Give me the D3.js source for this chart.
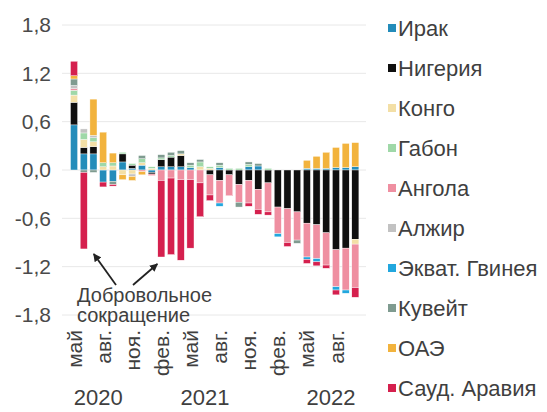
<!DOCTYPE html>
<html>
<head>
<meta charset="utf-8">
<script src="https://cdn.jsdelivr.net/npm/d3@7"></script>
<style>
  html, body { margin: 0; padding: 0; background: #fff; }
  svg { display: block; font-family: "Liberation Sans", Arial, sans-serif; }
</style>
</head>
<body>
<svg id="chart" width="547" height="412"></svg>
<script>
// ---------- DATA ----------
const months = ["2020-05","2020-06","2020-07","2020-08","2020-09","2020-10","2020-11","2020-12",
  "2021-01","2021-02","2021-03","2021-04","2021-05","2021-06","2021-07","2021-08","2021-09","2021-10","2021-11","2021-12",
  "2022-01","2022-02","2022-03","2022-04","2022-05","2022-06","2022-07","2022-08","2022-09","2022-10"];

const monthTickLabels = {"2020-05":"май","2020-08":"авг.","2020-11":"ноя.","2021-02":"фев.","2021-05":"май",
  "2021-08":"авг.","2021-11":"ноя.","2022-02":"фев.","2022-05":"май","2022-08":"авг."};

const yearLabels = ["2020","2021","2022"];
const yearAnchorMonths = ["2020-07","2021-06","2022-07"];

const yTicks = [1.8, 1.2, 0.6, 0.0, -0.6, -1.2, -1.8];

const seriesNames = ["Ирак","Нигерия","Конго","Габон","Ангола","Алжир","Экват. Гвинея","Кувейт","ОАЭ","Сауд. Аравия"];
const seriesColors = ["#238cba","#0f0f0f","#f3dfa6","#9fd8a8","#ef8fa1","#c2c2c2","#22a7de","#7f9b90","#f2b33d","#d5204e"];

const iraq    = [0.56,0.20,0.20,-0.15,-0.14,0.10,0.02,0.06,-0.03,0.04,0.04,0.04,0.03,0,0,0.03,0,0,0.04,0.05,0,0,0,0,0.02,0.02,0.02,0.03,0.03,0.04];
const nigeria = [0.28,0.08,0.09,0,0,0.10,0.04,0,-0.02,0.09,0.12,0.14,0,0,-0.06,-0.13,-0.06,-0.18,-0.13,-0.24,-0.16,-0.46,-0.48,-0.52,-0.66,-0.68,-0.78,-0.99,-0.97,-0.86];
const congo   = [0.09,0.10,0.06,0.04,0.05,-0.06,-0.05,0.03,0.02,0,0,0.02,0,0.04,0.02,0,0,0,0,0,0,0,0,0,0,0,0,0,0,-0.06];
const gabon   = [0.06,0.08,0.05,0.05,0.04,0.02,0.02,0.05,0.02,0.02,0.02,0,0.03,0.06,0.02,0.03,0.02,0.02,0.03,0,0.02,0,0,0,0,0,0,0,0,0];
const angola  = [0.02,0,0,0,0,0,0,-0.02,-0.02,-0.13,-0.10,-0.12,-0.12,-0.16,-0.25,-0.28,-0.26,-0.22,-0.28,-0.25,-0.36,-0.33,-0.42,-0.35,-0.42,-0.42,-0.40,-0.46,-0.52,-0.54];
const algeria = [0.04,0.05,0.03,0,0,0,-0.03,0,0,0,0,0,0,0,0,0,0,0,0,0,0,0,0,0,0,0,0,0,0,0];
const eqGuinea= [0,0,0,0,0,0,0,0,0,0,0,0,0,0,0,-0.04,0,0,0,0,0,-0.04,0,0,-0.03,-0.04,0,-0.04,-0.04,0];
const kuwait  = [0.08,-0.03,-0.03,0,-0.04,0,0,0.04,0,0.04,0.04,0.04,0.03,0.03,0,0.03,0,-0.06,0.03,0.03,0,0,0,-0.04,0,0,0,0,0,0];
const uae     = [0.04,0,0.45,0.38,0.12,-0.06,-0.05,-0.04,0,0,0,0,0,0,0,0,0,0,0,0,0,0,0,0,0.10,0.15,0.20,0.25,0.30,0.30];
const saudi   = [0.18,-0.95,0,-0.06,-0.02,0,0,0,0,-0.95,-0.95,-1.00,-0.85,-0.42,-0.07,0,0,0,-0.04,-0.06,-0.04,0,-0.05,0,-0.05,-0.05,-0.04,-0.06,0,-0.12];

const seriesValues = [iraq, nigeria, congo, gabon, angola, algeria, eqGuinea, kuwait, uae, saudi];

const annotationLines = ["Добровольное","сокращение"];
const annotationTargets = ["2020-06","2021-02"];

// ---------- BUILD TABLE ----------
const table = months.map((m, i) => {
  const row = { month: m };
  seriesNames.forEach((s, k) => { row[s] = seriesValues[k][i]; });
  return row;
});

const svg = d3.select("#chart");
const font = "\"Liberation Sans\", Arial, sans-serif";
const textColor = "#3f3f3f";

const x = d3.scaleBand().domain(months).range([69.2, 360.2]).paddingInner(0.27).paddingOuter(0.135);
const y = d3.scaleLinear().domain([-1.8, 1.8]).range([315, 25]);
const color = d3.scaleOrdinal().domain(seriesNames).range(seriesColors);

// gridlines
svg.append("g").selectAll("line").data(yTicks).join("line")
  .attr("x1", 62).attr("x2", 366)
  .attr("y1", d => y(d)).attr("y2", d => y(d))
  .attr("stroke", "#e8e8e8").attr("stroke-width", 1);

// y axis labels
const yAxis = d3.axisLeft(y).tickValues(yTicks).tickSize(0).tickPadding(0)
  .tickFormat(d => d3.format(".1f")(d).replace(".", ",").replace("−", "-"));
const gy = svg.append("g").attr("transform", "translate(51,0)").call(yAxis);
gy.select(".domain").remove();
gy.selectAll("text").attr("font-size", 21).attr("font-family", font).attr("fill", "#4a4a4a");

// stacked bars
const stack = d3.stack().keys(seriesNames).order(d3.stackOrderNone).offset(d3.stackOffsetDiverging);
const layers = stack(table);

svg.append("g").selectAll("g").data(layers).join("g")
  .attr("fill", d => color(d.key))
  .selectAll("rect").data(d => d.filter(v => v[1] !== v[0])).join("rect")
  .attr("x", d => x(d.data.month))
  .attr("width", x.bandwidth())
  .attr("y", d => y(Math.max(d[0], d[1])))
  .attr("height", d => Math.abs(y(d[0]) - y(d[1])))
  .attr("stroke", "#ffffff").attr("stroke-width", 0.4);

// month labels (rotated)
const xAxis = d3.axisBottom(x).tickValues(Object.keys(monthTickLabels))
  .tickFormat(d => monthTickLabels[d]).tickSize(0).tickPadding(0);
const gx = svg.append("g").attr("transform", "translate(0,330)").call(xAxis);
gx.select(".domain").remove();
gx.selectAll("text")
  .attr("font-size", 21).attr("font-family", font).attr("fill", textColor)
  .attr("transform", "rotate(-90)")
  .attr("text-anchor", "end")
  .attr("x", 0).attr("y", 0).attr("dy", "0.36em");

// year labels
svg.append("g").selectAll("text").data(yearLabels).join("text")
  .attr("x", (d, i) => x(yearAnchorMonths[i]) + x.bandwidth() / 2 + x.step() / 2)
  .attr("y", 405)
  .attr("text-anchor", "middle")
  .attr("font-size", 22).attr("font-family", font).attr("fill", textColor)
  .text(d => d);

// annotation
svg.append("text")
  .attr("x", 77).attr("y", 302)
  .attr("font-size", 20).attr("font-family", font).attr("fill", textColor)
  .selectAll("tspan").data(annotationLines).join("tspan")
  .attr("x", 77).attr("dy", (d, i) => i === 0 ? 0 : 20)
  .text(d => d);

const defs = svg.append("defs");
defs.append("marker").attr("id", "arrow").attr("viewBox", "0 0 10 10")
  .attr("refX", 9).attr("refY", 5).attr("markerWidth", 4.5).attr("markerHeight", 4.5)
  .attr("orient", "auto")
  .append("path").attr("d", "M0,0 L10,5 L0,10 z").attr("fill", "#222");

const arrowStarts = [[116, 285], [133, 285]];
const arrowEnds = annotationTargets.map((m, i) => {
  const xc = x(m) + x.bandwidth() / 2;
  const bottom = d3.min(layers, L => L[months.indexOf(m)][0]);
  return i === 0 ? [xc + 10, y(bottom) + 5] : [xc - 4, y(bottom) + 7];
});
svg.append("g").selectAll("line").data(arrowStarts).join("line")
  .attr("x1", d => d[0]).attr("y1", d => d[1])
  .attr("x2", (d, i) => arrowEnds[i][0]).attr("y2", (d, i) => arrowEnds[i][1])
  .attr("stroke", "#222").attr("stroke-width", 1.8)
  .attr("marker-end", "url(#arrow)");

// legend
const lg = svg.append("g").selectAll("g").data(seriesNames).join("g")
  .attr("transform", (d, i) => `translate(388, ${28 + i * 40})`);
lg.append("rect").attr("x", 0).attr("y", -4).attr("width", 8).attr("height", 8)
  .attr("fill", d => color(d));
lg.append("text").attr("x", 10).attr("y", 0).attr("dy", "0.35em")
  .attr("font-size", 22).attr("font-family", font).attr("fill", textColor)
  .text(d => d);
</script>
</body>
</html>
